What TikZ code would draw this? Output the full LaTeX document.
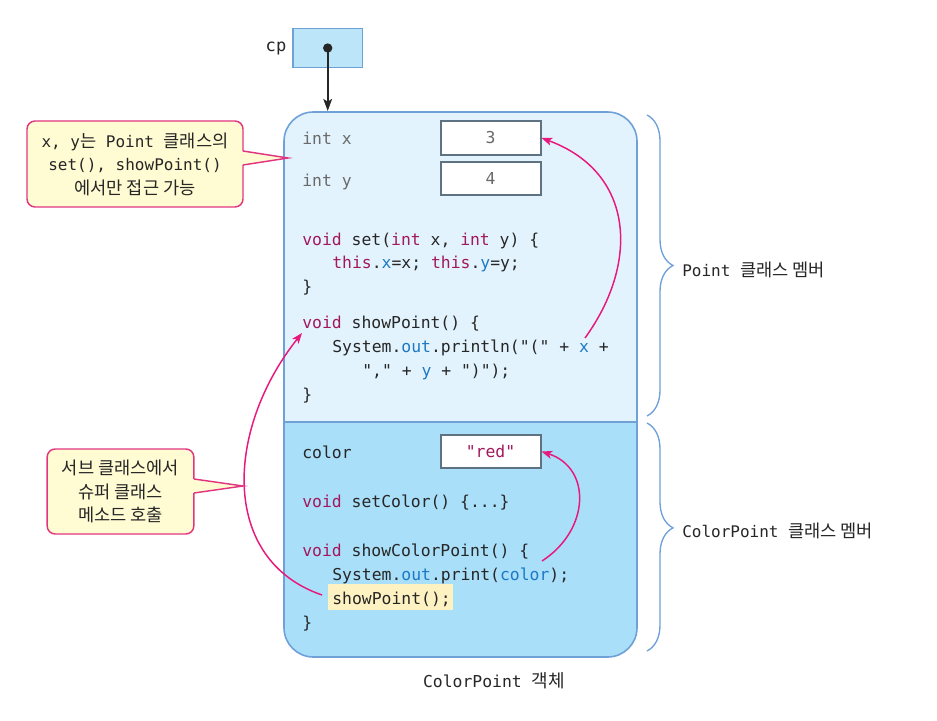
\documentclass[tikz,border=0pt]{standalone}
\usepackage{fontspec}
% monospaced family throughout (keeps straight quotes in the code)
\setmonofont{DejaVu Sans Mono}
\renewcommand{\familydefault}{\ttdefault}
\newfontfamily\kr{Noto Sans CJK KR}[Scale=1.1]
\usetikzlibrary{arrows.meta,decorations.pathreplacing}

\definecolor{objline}{HTML}{6FA0D8}
\definecolor{toppart}{HTML}{E2F3FD}
\definecolor{botpart}{HTML}{AADFF9}
\definecolor{refbox}{HTML}{BDE5F9}
\definecolor{slotline}{HTML}{5F7282}
\definecolor{callfill}{HTML}{FFFBD3}
\definecolor{callline}{HTML}{E23580}
\definecolor{flow}{HTML}{E8187C}
\definecolor{kwd}{HTML}{A3185C}
\definecolor{fld}{HTML}{1C79C6}
\definecolor{txt}{HTML}{262626}
\definecolor{dim}{HTML}{6A6A6A}
\definecolor{hilite}{HTML}{FFF2C2}

% keyword and field colouring inside code lines
\newcommand\codekw[1]{\textcolor{kwd}{#1}}
\newcommand\codefd[1]{\textcolor{fld}{#1}}

\tikzset{
  code/.style={anchor=base west, inner sep=0pt, text=txt,
    font=\fontsize{12.3}{14}\selectfont},
  slot/.style={draw=slotline, fill=white, line width=1.5pt,
    minimum width=75pt, minimum height=25pt, inner sep=0pt,
    font=\fontsize{12.3}{14}\selectfont},
  callbox/.style={draw=callline, fill=callfill, line width=1.1pt,
    rounded corners=6pt, align=center, inner sep=0pt, text=txt,
    font=\fontsize{12}{17.6}\selectfont},
  pointer/.style={draw=callline, line width=1.1pt, line join=miter},
  flowarrow/.style={draw=flow, line width=1.1pt,
    -{Stealth[length=8pt,width=6pt,inset=2pt]}},
  membrace/.style={draw=objline, line width=1pt, decorate},
  caption/.style={anchor=west, inner sep=0pt, text=txt,
    font=\fontsize{12}{14}\selectfont},
}

\begin{document}
\begin{tikzpicture}[x=0.75pt, y=-0.75pt]
\useasboundingbox (0,0) rectangle (937,720);

% ---------- reference variable cp ----------
\node[anchor=center, inner sep=0pt, text=txt,
      font=\fontsize{12.8}{14}\selectfont] (cplabel) at (276,48) {cp};
\node[draw=objline, fill=refbox, line width=1.2pt,
      minimum width=52pt, minimum height=29pt, inner sep=0pt] (cp) at (327.7,48) {};
\fill[black!85] (cp.center) circle (3.5pt);
\coordinate (objtop) at (327.7,111);
\draw[black!85, line width=1.5pt, -{Stealth[length=9pt,width=6.5pt,inset=2pt]}]
  (cp.center) -- (objtop);

% ---------- the ColorPoint object ----------
\begin{scope}
  \clip (270,100) rectangle (650,422);
  \fill[toppart, rounded corners=22pt] (284,112) rectangle (637,657);
\end{scope}
\begin{scope}
  \clip (270,422) rectangle (650,670);
  \fill[botpart, rounded corners=22pt] (284,112) rectangle (637,657);
\end{scope}
\draw[objline, line width=1.2pt, rounded corners=22pt] (284,112) rectangle (637,657);
\draw[objline, line width=1.2pt] (284,422) -- (637,422);

% highlighted call inside showColorPoint()
\fill[hilite] (328,584) rectangle (453,610);

% ---------- Point members ----------
\node[code, text=dim] (fx) at (302,145) {int x};
\node[code, text=dim] (fy) at (302,186) {int y};
\node[slot, text=dim] (vx) at (490.5,138) {3};
\node[slot, text=dim] (vy) at (490.5,178.5) {4};

\node[code] (set1) at (302,245) {\codekw{void} set(\codekw{int} x, \codekw{int} y) \{};
\node[code] (set2) at (332,268.5) {\codekw{this}.\codefd{x}=x; \codekw{this}.\codefd{y}=y;};
\node[code] (set3) at (302,292) {\}};

\node[code] (sp1) at (302,328) {\codekw{void} showPoint() \{};
\node[code] (sp2) at (332,352) {System.\codefd{out}.println("(" + \codefd{x} +};
\node[code] (sp3) at (362,376) {"," + \codefd{y} + ")");};
\node[code] (sp4) at (302,400) {\}};

% ---------- ColorPoint members ----------
\node[code] (fc) at (302,458) {color};
\node[slot, text=kwd] (vred) at (490.5,451.5) {"red"};

\node[code] (sc) at (302,507) {\codekw{void} setColor() \{...\}};

\node[code] (scp1) at (302,556) {\codekw{void} showColorPoint() \{};
\node[code] (scp2) at (332,580) {System.\codefd{out}.print(\codefd{color});};
\node[code] (scp3) at (332,604) {showPoint();};
\node[code] (scp4) at (302,628) {\}};

% ---------- data flow arrows ----------
\coordinate (xuse) at (585,338);
\coordinate (coloruse) at (542,561);
\coordinate (callsite) at (322,595);
\coordinate (showdef) at (302,333);

\draw[flowarrow] (xuse) .. controls (640,262) and (634,172) .. (vx.east);
\draw[flowarrow] (coloruse) .. controls (590,530) and (592,468) .. (vred.east);
\draw[flowarrow] (callsite) .. controls (220,560) and (225,430) .. (showdef);

% ---------- callouts ----------
\node[callbox, minimum width=162pt, minimum height=64.5pt] (call1) at (135,164)
  {x, y{\kr 는} Point {\kr 클래스의}\\set(), showPoint()\\{\kr 에서만 접근 가능}};
\fill[callfill] (241.3,151) -- (288,158) -- (241.3,165) -- cycle;
\draw[pointer] (243,151) -- (288,158) -- (243,165);

\node[callbox, minimum width=110pt, minimum height=63.75pt] (call2) at (120.5,491.5)
  {{\kr 서브 클래스에서}\\{\kr 슈퍼 클래스}\\{\kr 메소드 호출}};
\fill[callfill] (192.3,479) -- (243,486) -- (192.3,493) -- cycle;
\draw[pointer] (194,479) -- (243,486) -- (194,493);

% ---------- member braces ----------
\draw[membrace, decoration={brace, amplitude=19.5pt, aspect=0.5}]
  (647,115) -- (647,416);
\draw[membrace, decoration={brace, amplitude=19.5pt, aspect=0.46}]
  (647,423) -- (647,651);
\node[caption] (ptlabel) at (682,270) {Point {\kr 클래스 멤버}};
\node[caption] (cplabel2) at (682,531) {ColorPoint {\kr 클래스 멤버}};

% ---------- object caption ----------
\node[inner sep=0pt, text=txt, font=\fontsize{12.3}{14}\selectfont] (objname)
  at (494,681) {ColorPoint {\kr 객체}};
\end{tikzpicture}
\end{document}
